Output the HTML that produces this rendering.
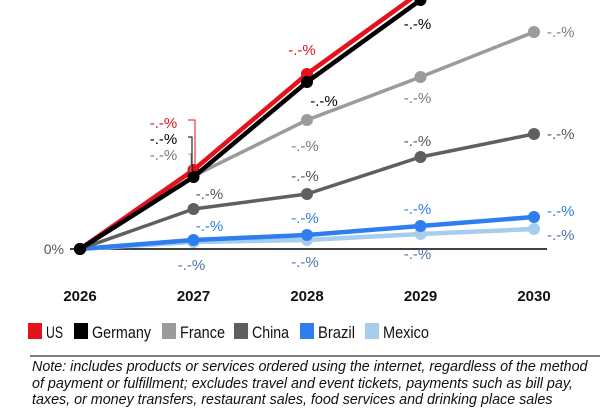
<!DOCTYPE html>
<html><head><meta charset="utf-8"><style>
html,body{margin:0;padding:0;background:#fff;width:600px;height:400px;overflow:hidden;font-family:"Liberation Sans",sans-serif}
svg{position:absolute;left:0;top:0}
.note{position:absolute;left:32px;top:359px;width:565px;font-style:italic;font-size:14.3px;line-height:16.5px;color:#111}
</style></head><body>
<svg id="chart" width="600" height="400" viewBox="0 0 600 400"></svg>
<div class="note">Note: includes products or services ordered using the internet, regardless of the method of payment or fulfillment; excludes travel and event tickets, payments such as bill pay, taxes, or money transfers, restaurant sales, food services and drinking place sales</div>
<script>
const years = ["2026","2027","2028","2029","2030"];
const us = [0, 7.9, 17.5, 25.7, 34];
const germany = [0, 7.2, 16.7, 24.9, 33];
const france = [0, 7.3, 12.9, 17.2, 21.7];
const china = [0, 4.0, 5.5, 9.2, 11.5];
const brazil = [0, 0.9, 1.4, 2.3, 3.2];
const mexico = [0, 0.7, 0.9, 1.5, 2.0];
const seriesNames = ["US","Germany","France","China","Brazil","Mexico"];
const seriesColors = ["#e3121b","#000000","#9b9b9b","#5f5f5f","#2f7ef0","#a6cdee"];
const seriesLabelColors = ["#e3121b","#000000","#7a7a7a","#555555","#2f7be8","#4f74a6"];

const svg = document.getElementById('chart');
const NS = 'http://www.w3.org/2000/svg';
const x = i => 80 + i * 113.5;
const y = v => 249 - v * 10;
function mk(tag, attrs, parent){const e=document.createElementNS(NS,tag);for(const k in attrs)e.setAttribute(k,attrs[k]);(parent||svg).appendChild(e);return e;}

const axis = mk('line',{x1:70,x2:547,y1:249,y2:249,stroke:'#000','stroke-width':1.5});


const zl = mk('text',{x:64,y:254,'text-anchor':'end','font-size':14,fill:'#555'}); zl.textContent='0%';



years.forEach((yr,i)=>{
  const t = mk('text',{x:x(i),y:301,'text-anchor':'middle','font-size':15,'font-weight':'bold',fill:'#111'});
  t.textContent = yr;
  
  
});

const all = [us, germany, france, china, brazil, mexico];
const widths = [4.5,4.5,3.5,3.5,4.5,4.5];
const order = [5,4,3,2,0,1];
order.forEach(s=>{
  const g = mk('g',{});
  
  
  const pts = all[s].map((v,i)=>x(i)+','+y(v)).join(' ');
  mk('polyline',{points:pts,fill:'none',stroke:seriesColors[s],'stroke-width':widths[s],'stroke-linejoin':'round'},g);
  all[s].forEach((v,i)=>{
    const c = mk('circle',{cx:x(i),cy:y(v),r:6,fill:seriesColors[s]},g);
    
    
  });
});
const c0 = mk('circle',{cx:x(0),cy:y(0),r:6,fill:'#000'});



const labels = [
 [0,1,-30,128,'middle'],[1,1,-30,144,'middle'],[2,1,-30,160,'middle'],
 [3,1,16,199,'middle'],[4,1,16,231,'middle'],[5,1,-2,270,'middle'],
 [0,2,-5,55,'middle'],[1,2,17,106,'middle'],[2,2,-2,151,'middle'],[3,2,-2,181,'middle'],[4,2,-2,223,'middle'],[5,2,-2,267,'middle'],
 [1,3,-3,29,'middle'],[2,3,-3,103,'middle'],[3,3,-3,146,'middle'],[4,3,-3,214,'middle'],[5,3,-3,259,'middle'],
 [2,4,13,37,'start'],[3,4,13,139,'start'],[4,4,13,216,'start'],[5,4,13,240,'start']
];
labels.forEach(([s,i,dx,ty,a])=>{
  const t = mk('text',{x:x(i)+dx,y:ty,'text-anchor':a,'font-size':15,fill:seriesLabelColors[s]});
  t.textContent='-.-%';
  
  
});
mk('polyline',{points:'188,120 195,120 195,166',fill:'none',stroke:'#e3121b','stroke-width':1});
mk('polyline',{points:'188,137 192,137 192,172',fill:'none',stroke:'#000','stroke-width':1});
mk('polyline',{points:'188,154 191,154 191,172',fill:'none',stroke:'#999','stroke-width':1});

const legTextX = [46,92,180,252,318,383];
const legTextW = [17,59,45,37,37,46];
seriesNames.forEach((n,s)=>{
  const g = mk('g',{});
  
  
  mk('rect',{x:legTextX[s]-18,y:323,width:14,height:16,fill:seriesColors[s]},g);
  const t = mk('text',{x:legTextX[s],y:338,'font-size':17,fill:'#111',textLength:legTextW[s],lengthAdjust:'spacingAndGlyphs'},g);
  t.textContent = n;
});
const sep = mk('line',{x1:30,x2:600,y1:356,y2:356,stroke:'#000','stroke-width':1});


</script>
</body></html>
